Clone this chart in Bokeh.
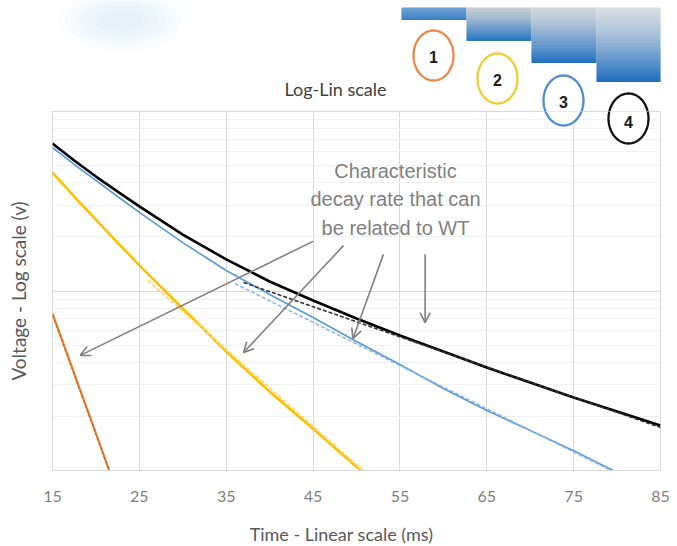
import math
from bokeh.plotting import figure
from bokeh.layouts import column
from bokeh.models import (Range1d, LinearScale, FixedTicker, Label, Arrow, OpenHead)
from bokeh.core.properties import value
from bokeh.embed import file_html
from bokeh.resources import INLINE

# Decay records: time in ms, voltage in V (log axis)
t_1 = [15, 16, 17, 18, 19, 20, 21, 21.6]
v_1 = [0.0749, 0.0551, 0.0405, 0.0297, 0.0219, 0.0161, 0.0118, 0.00975]
t_2 = [15, 17.5, 20, 22.5, 25, 30, 35, 40, 45, 50, 51]
v_2 = [0.457, 0.336, 0.250, 0.186, 0.139, 0.0799, 0.0460, 0.0275, 0.0171, 0.0105, 0.00975]
t_3 = [15, 17.5, 20, 22.5, 25, 30, 35, 40, 45, 50, 55, 60, 65, 70, 75, 80]
v_3 = [0.630, 0.507, 0.413, 0.336, 0.274, 0.186, 0.130, 0.0956, 0.0712, 0.0523,
       0.0390, 0.0286, 0.0216, 0.0167, 0.0129, 0.00975]
t_4 = [15, 17.5, 20, 22.5, 25, 30, 35, 40, 45, 50, 55, 60, 65, 70, 75, 80, 85]
v_4 = [0.663, 0.533, 0.434, 0.358, 0.296, 0.206, 0.150, 0.113, 0.0886, 0.0703,
       0.0565, 0.0460, 0.0375, 0.0309, 0.0255, 0.0213, 0.0178]

# Single-exponential fits (straight lines on log-lin axes)
fit_t_1 = [15, 21.6]
fit_v_1 = [0.0730, 0.00975]
fit_t_2 = [26, 51]
fit_v_2 = [0.1144, 0.00975]
fit_t_3 = [36, 80]
fit_v_3 = [0.1101, 0.00962]
fit_t_4 = [37, 85]
fit_v_4 = [0.1115, 0.01737]

x_ticks = [15, 25, 35, 45, 55, 65, 75, 85]
y_major = [0.01, 0.1, 1]
y_minor = [0.02, 0.03, 0.04, 0.05, 0.06, 0.07, 0.08, 0.09,
           0.2, 0.3, 0.4, 0.5, 0.6, 0.7, 0.8, 0.9]

# Callout arrows (from the note towards each decay)
arrow_t0 = [45.0, 48.5, 53.1, 57.9]
arrow_v0 = [0.189, 0.179, 0.160, 0.160]
arrow_t1 = [18.2, 37.0, 49.6, 57.9]
arrow_v1 = [0.0438, 0.0454, 0.0543, 0.0667]

note_lines = ["Characteristic", "decay rate that can", "be related to WT"]
step_labels = ["1", "2", "3", "4"]

colors = {"1": "#ed7d31", "2": "#ffc000", "3": "#5b9bd5", "4": "#000000"}

# layout of the numbered circles (page pixels)
circle_x = [433, 497, 563, 628]
circle_y = [55, 78, 100, 118]
label_y = [56, 79, 101, 121]
circle_colors = ["#ee874a", "#f0cc33", "#4f8dcd", "#111111"]

TOP_H = 111              # header band
FRAME_H = 359            # chart frame
BOT_BORDER = 50          # tick labels below the frame
BAND_H = 546 - TOP_H - FRAME_H - BOT_BORDER   # x axis title band
X0, X1 = 52, 660         # horizontal extent of the frames


def mix(c0, c1, f):
    a = [int(c0[i:i + 2], 16) for i in (1, 3, 5)]
    b = [int(c1[i:i + 2], 16) for i in (1, 3, 5)]
    return "#" + "".join(f"{round(x + (y - x) * f):02x}" for x, y in zip(a, b))


def ring(cx, cy, rx=20, ry=25, n=72):
    th = [2 * math.pi * k / n for k in range(n)]
    return [cx + rx * math.cos(a) for a in th], [cy + ry * math.sin(a) for a in th]


def band(height):
    f = figure(width=677, height=height, x_range=Range1d(X0, X1), y_range=Range1d(height, 0),
               output_backend="svg", toolbar_location=None, title=None,
               x_axis_location=None, y_axis_location=None,
               min_border_left=X0, min_border_right=677 - X1,
               min_border_top=0, min_border_bottom=0)
    f.grid.visible = False
    f.outline_line_color = None
    f.background_fill_color = "white"
    f.border_fill_color = "white"
    return f


# ---------------- header band ----------------
top = band(TOP_H)

# soft, faint haze in the upper-left corner
haze_w = [130, 115, 100, 85, 70, 55, 40]
haze_h = [64, 56, 48, 40, 33, 26, 19]
top.ellipse(x=[122] * len(haze_w), y=[20] * len(haze_w), width=haze_w, height=haze_h,
            width_units="screen", height_units="screen",
            fill_color="#d3e7f4", fill_alpha=0.09, line_color=None)

# stepped gradient blocks
blocks = [(401, 466, 7, 19, "#6a9fd2", "#3b80c3"),
          (466, 531, 7, 40, "#c6cdd4", "#2474c5"),
          (531, 596, 7, 62, "#d0d6dc", "#2171c2"),
          (596, 661, 7, 81, "#d8dde2", "#1e6ebf")]
ql, qr, qt, qb, qc = [], [], [], [], []
for left, right, t0, b0, c_top, c_bot in blocks:
    n = max(4, int((b0 - t0) / 1.5))
    h = (b0 - t0) / n
    for k in range(n):
        f = ((k + 0.5) / n) ** 1.3
        ql.append(left)
        qr.append(right)
        qt.append(t0 + k * h)
        qb.append(t0 + (k + 1) * h + 0.6)
        qc.append(mix(c_top, c_bot, f))
top.quad(left=ql, right=qr, top=qt, bottom=qb, fill_color=qc, line_color=None)

top.text(x=[335], y=[88], text=["Log-Lin scale"], text_align="center",
         text_baseline="middle", text_font=value("Lato"), text_font_size="18px",
         text_color="#404040")

rings = [ring(cx, cy) for cx, cy in zip(circle_x, circle_y)]
top.patches(xs=[r[0] for r in rings], ys=[r[1] for r in rings], fill_color="white",
            line_color=circle_colors, line_width=2.3)
top.text(x=circle_x[:3], y=label_y[:3], text=step_labels[:3],
         text_align="center", text_baseline="middle",
         text_font=value("Liberation Sans"), text_font_style="bold",
         text_font_size="16px", text_color="#1a1a1a")

# ---------------- main chart ----------------
p = figure(width=677, height=FRAME_H + BOT_BORDER, x_range=Range1d(15, 85),
           y_range=Range1d(0.01, 1), y_axis_type="log", output_backend="svg",
           toolbar_location=None, title=None,
           min_border_left=X0, min_border_right=677 - X1, min_border_top=0,
           min_border_bottom=BOT_BORDER)
p.background_fill_color = "white"
p.border_fill_color = "white"
p.outline_line_color = "#d9d9d9"

# frame pixel coordinates for the overlays (origin at the frame's top edge)
p.extra_x_ranges = {"px": Range1d(X0, X1)}
p.extra_y_ranges = {"px": Range1d(FRAME_H, 0)}
p.extra_x_scales = {"px": LinearScale()}
p.extra_y_scales = {"px": LinearScale()}

# grids
p.xgrid.ticker = FixedTicker(ticks=x_ticks)
p.xgrid.grid_line_color = "#d9d9d9"
p.ygrid.ticker = FixedTicker(ticks=y_major, minor_ticks=y_minor)
p.ygrid.grid_line_color = "#d9d9d9"
p.ygrid.minor_grid_line_color = "#f1f1f1"

# axes
p.xaxis.ticker = FixedTicker(ticks=x_ticks)
p.xaxis.major_label_text_font = "Lato"
p.xaxis.major_label_text_font_size = "16px"
p.xaxis.major_label_text_color = "#7f7f7f"
p.xaxis.major_tick_line_color = None
p.xaxis.minor_tick_line_color = None
p.xaxis.major_tick_out = 0
p.xaxis.major_label_standoff = 20
p.xaxis.axis_line_color = "#d9d9d9"

p.yaxis.ticker = FixedTicker(ticks=[])
p.yaxis.axis_line_color = None
p.yaxis.major_tick_line_color = None
p.yaxis.minor_tick_line_color = None
p.yaxis.major_tick_out = 0
p.yaxis.major_label_standoff = 0
p.yaxis.axis_label = "Voltage - Log scale (v)"
p.yaxis.axis_label_text_font = "Lato"
p.yaxis.axis_label_text_font_size = "19px"
p.yaxis.axis_label_text_font_style = "normal"
p.yaxis.axis_label_text_color = "#595959"
p.yaxis.axis_label_standoff = 23

# decay curves and their fits
p.line(t_1, v_1, line_color=colors["1"], line_width=2.2)
p.line(fit_t_1, fit_v_1, line_color="#c0601f", line_width=1.0, line_dash="3 2")
p.line(t_2, v_2, line_color=colors["2"], line_width=2.6)
p.line(fit_t_2, fit_v_2, line_color="#ffd966", line_width=2, line_dash="4 2")
p.line(t_3, v_3, line_color=colors["3"], line_width=1.7)
p.line(fit_t_3, fit_v_3, line_color="#8fb8e3", line_width=1.6, line_dash="4 2")
p.line(t_4, v_4, line_color=colors["4"], line_width=2.6)
p.line(fit_t_4, fit_v_4, line_color="#333333", line_width=1.6, line_dash="4 2")

# callout arrows and note
for xs, ys, xe, ye in zip(arrow_t0, arrow_v0, arrow_t1, arrow_v1):
    p.add_layout(Arrow(x_start=xs, y_start=ys, x_end=xe, y_end=ye,
                       line_color="#808080", line_width=1.6,
                       end=OpenHead(size=10, line_color="#808080", line_width=1.6)))

for i, txt in enumerate(note_lines):
    p.add_layout(Label(x=395, y=170 + 28.5 * i - TOP_H, x_range_name="px", y_range_name="px",
                       text=txt, text_align="center", text_baseline="middle",
                       text_font="Liberation Sans", text_font_size="20px",
                       text_color="#7f7f7f"))

# lower parts of circles 3 and 4 reach into the chart frame
p.patches(xs=[r[0] for r in rings[2:]], ys=[[y - TOP_H for y in r[1]] for r in rings[2:]],
          fill_color="white", line_color=circle_colors[2:], line_width=2.3,
          x_range_name="px", y_range_name="px")
p.text(x=circle_x[3:], y=[y - TOP_H for y in label_y[3:]], text=step_labels[3:],
       text_align="center", text_baseline="middle",
       text_font=value("Liberation Sans"), text_font_style="bold",
       text_font_size="16px", text_color="#1a1a1a",
       x_range_name="px", y_range_name="px")

# ---------------- x axis title band ----------------
bottom = band(BAND_H)
bottom.text(x=[341], y=[533 - (TOP_H + FRAME_H + BOT_BORDER)], text=["Time - Linear scale (ms)"],
            text_align="center", text_baseline="middle", text_font=value("Lato"),
            text_font_size="18px", text_color="#595959")

layout = column(top, p, bottom, spacing=0)
open("out.html", "w").write(file_html(layout, INLINE))
